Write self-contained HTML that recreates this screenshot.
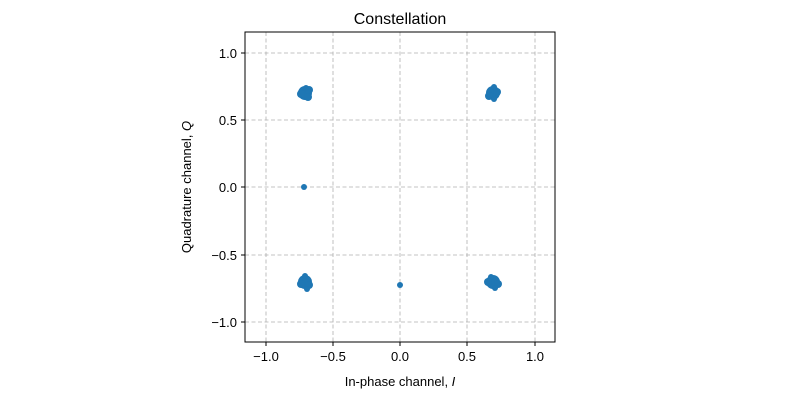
<!DOCTYPE html>
<html><head><style>body{margin:0;background:#fff}</style></head><body>
<svg width="800" height="400" xmlns="http://www.w3.org/2000/svg" font-family="Liberation Sans, DejaVu Sans, sans-serif">
<rect width="800" height="400" fill="#fff"/>
<g stroke="#b0b0b0" stroke-dasharray="4,2.5" stroke-width="0.8">
<line x1="266" y1="32" x2="266" y2="342"/><line x1="333" y1="32" x2="333" y2="342"/><line x1="400" y1="32" x2="400" y2="342"/><line x1="467" y1="32" x2="467" y2="342"/><line x1="535" y1="32" x2="535" y2="342"/>
<line x1="245" y1="53" x2="555" y2="53"/><line x1="245" y1="120" x2="555" y2="120"/><line x1="245" y1="187" x2="555" y2="187"/><line x1="245" y1="255" x2="555" y2="255"/><line x1="245" y1="322" x2="555" y2="322"/>
</g>
<g fill="#1f77b4">
<circle cx="305" cy="93" r="7"/><circle cx="301" cy="94" r="4"/><circle cx="309" cy="90" r="4"/><circle cx="306" cy="88" r="3"/><circle cx="308" cy="97" r="4"/>
<circle cx="493" cy="93" r="7"/><circle cx="494" cy="87" r="3"/><circle cx="489" cy="96" r="4"/><circle cx="497" cy="92" r="4"/><circle cx="494" cy="99" r="3"/>
<circle cx="305" cy="282" r="7"/><circle cx="305" cy="276" r="3"/><circle cx="301" cy="284" r="4"/><circle cx="309" cy="285" r="4"/><circle cx="307" cy="289" r="3"/>
<circle cx="493" cy="282" r="7"/><circle cx="491" cy="277" r="3"/><circle cx="488" cy="282" r="4"/><circle cx="498" cy="284" r="4"/><circle cx="495" cy="288" r="3"/>
<circle cx="304" cy="187" r="3"/><circle cx="400" cy="285" r="3"/>
</g>
<rect x="245" y="32" width="310" height="310" fill="none" stroke="#000" stroke-width="1"/>
<g stroke="#000"><line x1="266" y1="342" x2="266" y2="346"/><line x1="333" y1="342" x2="333" y2="346"/><line x1="400" y1="342" x2="400" y2="346"/><line x1="467" y1="342" x2="467" y2="346"/><line x1="535" y1="342" x2="535" y2="346"/>
<line x1="241" y1="53" x2="245" y2="53"/><line x1="241" y1="120" x2="245" y2="120"/><line x1="241" y1="187" x2="245" y2="187"/><line x1="241" y1="255" x2="245" y2="255"/><line x1="241" y1="322" x2="245" y2="322"/></g>
<g font-size="13" text-anchor="middle" fill="#000">
<text x="266" y="361">−1.0</text><text x="333" y="361">−0.5</text><text x="400" y="361">0.0</text><text x="467" y="361">0.5</text><text x="535" y="361">1.0</text>
</g>
<g font-size="13" text-anchor="end" fill="#000">
<text x="237" y="58">1.0</text><text x="237" y="125">0.5</text><text x="237" y="192">0.0</text><text x="237" y="260">−0.5</text><text x="237" y="327">−1.0</text>
</g>
<text x="400" y="24" font-size="16" text-anchor="middle">Constellation</text>
<text x="400" y="386" font-size="13" text-anchor="middle">In-phase channel, <tspan font-style="italic">I</tspan></text>
<text transform="translate(191,187) rotate(-90)" font-size="13" text-anchor="middle">Quadrature channel, <tspan font-style="italic">Q</tspan></text>
</svg>
</body></html>
